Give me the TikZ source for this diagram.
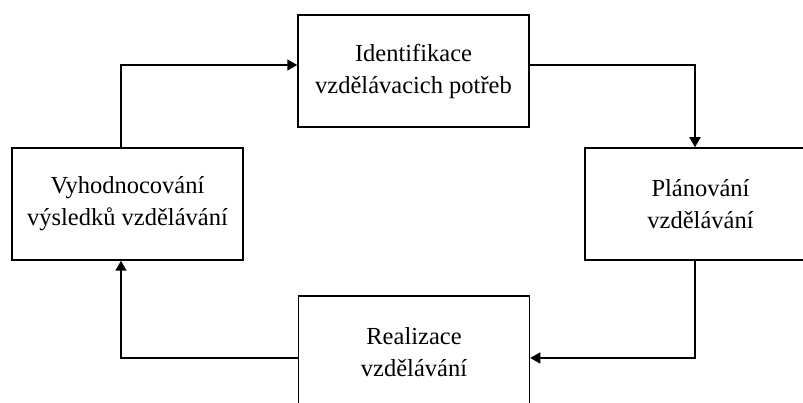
\documentclass[tikz,border=0pt]{standalone}
\usepackage{fontspec}
\setmainfont{Liberation Serif}
\usetikzlibrary{arrows.meta}
\begin{document}
\begin{tikzpicture}[x=1pt,y=1pt,
  box/.style={draw, line width=1.5pt, rectangle, minimum width=231pt, minimum height=112pt,
    inner sep=0pt, align=center, font=\fontsize{24.5}{32}\selectfont},
  arr/.style={line width=1.5pt, -{Triangle[length=10pt,width=11pt]}}]
\useasboundingbox (0,0) rectangle (803,-403);
\clip (0,0) rectangle (803,-403);
\fill[white] (0,0) rectangle (803,-403);
\node[box] (top) at (413.5,-71) {Identifikace\\vzdělávacich potřeb};
\node[box] (left) at (127.5,-204) {Vyhodnocování\\výsledků vzdělávání};
\node[box] (right) at (700.5,-204) {Plánování\\vzdělávání};
\node[box] (bottom) at (414,-352) {Realizace\\vzdělávání};
\draw[arr] ([xshift=-6.5pt]left.north) |- ([yshift=6pt]top.west);
\draw[arr] ([yshift=6pt]top.east) -| ([xshift=-5.5pt]right.north);
\draw[arr] ([xshift=-5.5pt]right.south) |- ([yshift=-6pt]bottom.east);
\draw[arr] ([yshift=-6pt]bottom.west) -| ([xshift=-6.5pt]left.south);
\end{tikzpicture}
\end{document}
